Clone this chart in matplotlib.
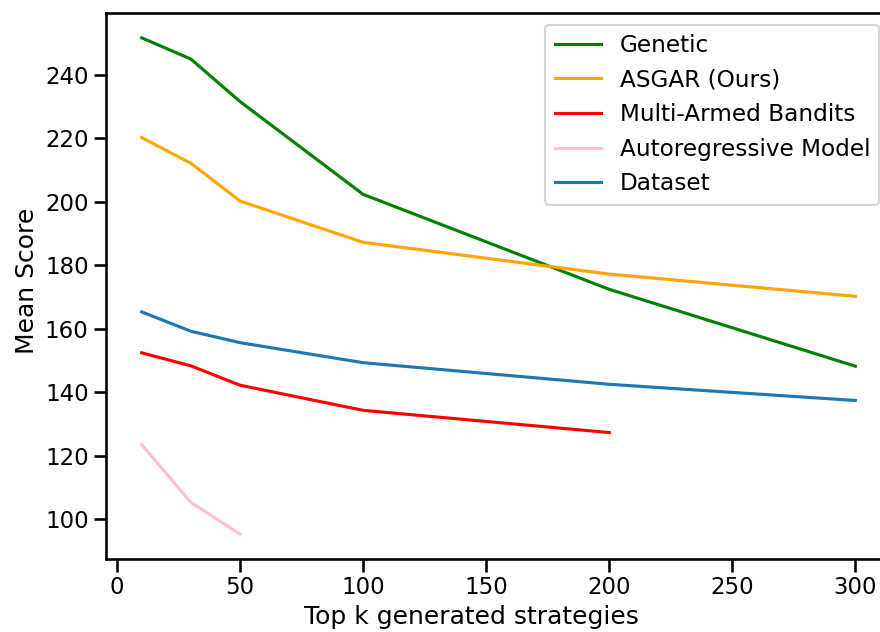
import matplotlib
matplotlib.use("Agg")
import matplotlib.pyplot as plt
import seaborn as sns

sns.set_context("talk")
plt.rcParams['font.family'] = ['DejaVu Sans']

k = [10, 30, 50, 100, 200, 300]
genetic = [251.6, 244.9, 231.5, 202.3, 172.4, 148.2]
asgar = [220.2, 212.1, 200.2, 187.2, 177.2, 170.2]
mab = [152.4, 148.3, 142.2, 134.3, 127.3]
autoreg = [123.5, 105.3, 95.3]
dataset = [165.3, 159.2, 155.6, 149.3, 142.5, 137.4]

fig = plt.figure(figsize=(8.8, 6.32), dpi=100)
# right spine falls just outside the picture, as in the original crop
ax = fig.add_axes([106/880, (632-559)/632, (891-106)/880, (559-13)/632])

ax.plot(k, genetic, color="green", label="Genetic")
ax.plot(k, asgar, color="orange", label="ASGAR (Ours)")
ax.plot(k[:5], mab, color="red", label="Multi-Armed Bandits")
ax.plot(k[:3], autoreg, color="pink", label="Autoregressive Model")
ax.plot(k, dataset, color="tab:blue", label="Dataset")

ax.set_xlabel("Top k generated strategies", x=0.466)
ax.set_ylabel("Mean Score", y=0.509)
ax.set_xticks([0, 50, 100, 150, 200, 250, 300])
ax.legend(loc="upper right", fontsize=16.7)

fig.savefig("out.png", dpi=100)
